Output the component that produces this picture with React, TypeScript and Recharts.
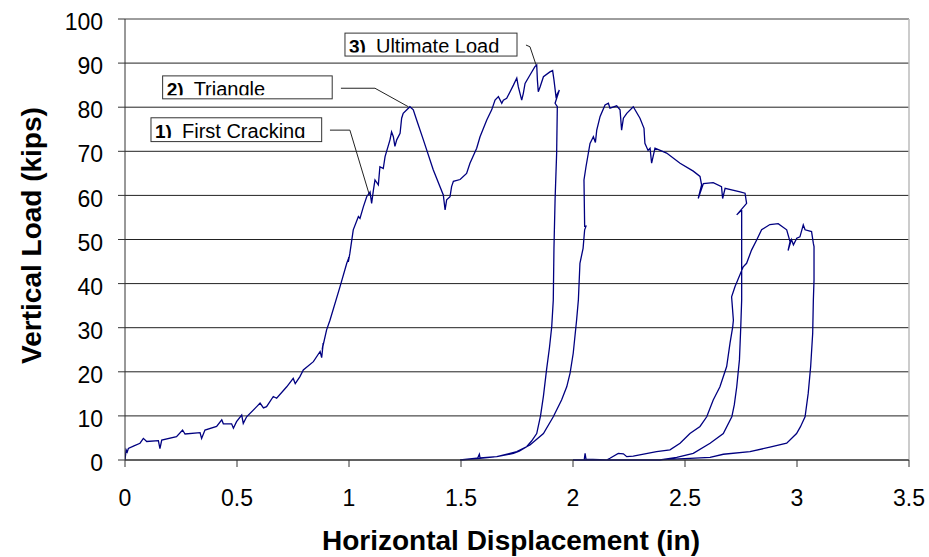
import React from 'react';
import { LineChart, Line, XAxis, YAxis, CartesianGrid, ReferenceLine, ReferenceArea } from 'recharts';

type Pt = [number, number];

const FONT = '"Liberation Sans", Arial, sans-serif';
const X_TICKS = [0, 0.5, 1, 1.5, 2, 2.5, 3, 3.5];
const Y_TICKS = [0, 10, 20, 30, 40, 50, 60, 70, 80, 90, 100];

// monotonic push up to the ultimate load
const firstLoading: Pt[] = [
  [0, 0], [0.005, 2.3], [0.01, 1.8], [0.015, 2.6], [0.04, 3.2], [0.067, 3.8], [0.082, 4.9],
  [0.097, 4.2], [0.149, 4.4], [0.156, 2.6], [0.164, 4.5], [0.23, 5.3], [0.257, 6.8], [0.268, 5.9],
  [0.335, 6.2], [0.342, 4.9], [0.357, 6.8], [0.409, 7.6], [0.432, 9.1], [0.439, 8.2], [0.476, 8.2],
  [0.484, 7.2], [0.498, 8.7], [0.521, 10.2], [0.528, 8.3], [0.543, 9.8], [0.588, 12.1], [0.603, 12.9],
  [0.618, 11.8], [0.632, 12.1], [0.662, 14.4], [0.677, 14.0], [0.722, 16.6], [0.751, 18.5],
  [0.76, 17.3], [0.781, 18.9], [0.796, 20.4], [0.841, 22.3], [0.871, 24.6], [0.878, 23.2],
  [0.885, 26.5], [0.88, 25], [0.9, 29.5], [0.915, 31.7], [0.96, 39.3], [0.99, 44.6], [1.0, 46.0],
  [0.997, 44.9], [1.004, 46.9], [1.019, 52.2], [1.042, 55.2], [1.049, 54.8], [1.064, 57.4],
  [1.079, 59.7], [1.094, 60.8], [1.101, 58.2], [1.109, 61.2], [1.116, 63.5], [1.131, 62.4],
  [1.138, 66.5], [1.153, 66.1], [1.161, 68.8], [1.183, 72.6], [1.19, 74.4], [1.198, 73.3],
  [1.205, 71.1], [1.213, 72.6], [1.228, 74.1], [1.235, 77.5], [1.242, 78.6], [1.272, 80.1],
  [1.287, 79.4], [1.302, 77.1], [1.332, 72.6], [1.376, 65.8], [1.421, 60.1], [1.429, 56.7],
  [1.436, 59.0], [1.451, 59.7], [1.458, 62.0], [1.466, 63.2], [1.496, 63.6], [1.525, 65.0],
  [1.54, 67.3], [1.57, 70.7], [1.585, 73.3], [1.615, 77.1], [1.637, 79.4], [1.652, 81.6],
  [1.667, 82.4], [1.682, 80.9], [1.689, 81.6], [1.704, 82.0], [1.734, 85.0], [1.749, 86.6],
  [1.756, 84.6], [1.771, 81.6], [1.778, 83.1], [1.786, 85.4], [1.808, 87.3], [1.83, 89.2],
  [1.838, 89.6], [1.841, 86.2], [1.845, 83.5], [1.853, 84.6], [1.868, 86.9], [1.897, 88.0],
  [1.909, 88.3], [1.915, 86.2], [1.924, 82.4], [1.939, 83.9], [1.92, 80.9], [1.93, 80.1],
];

const firstUnloading: Pt[] = [
  [1.927, 69.6], [1.92, 59.0], [1.915, 48.0], [1.912, 36.3], [1.905, 30.2], [1.895, 25.5],
  [1.882, 20.5], [1.868, 14.5], [1.855, 10.0], [1.838, 6.0], [1.815, 4.3], [1.793, 3.0],
  [1.76, 2.0], [1.734, 1.5], [1.66, 0.75], [1.585, 0.4], [1.52, 0.1], [1.496, 0],
];

const secondLoading: Pt[] = [
  [1.57, 0.4], [1.575, 0.5], [1.582, 1.3], [1.585, 0.5], [1.66, 0.75], [1.749, 1.9], [1.808, 3.4],
  [1.868, 6.0], [1.912, 9.8], [1.949, 13.6], [1.972, 16.6], [1.987, 19.7], [2.001, 24.2],
  [2.016, 31.7], [2.024, 36.3], [2.031, 44.6], [2.045, 48.0], [2.052, 52.2], [2.058, 53.0],
  [2.052, 53.0], [2.049, 63.5], [2.058, 66.5], [2.076, 71.8], [2.091, 73.3], [2.1, 72.0],
  [2.106, 74.8], [2.121, 77.9], [2.143, 80.5], [2.158, 80.9], [2.165, 79.8], [2.195, 80.3],
  [2.21, 79.4], [2.217, 74.8], [2.225, 77.5], [2.24, 78.6], [2.269, 80.1], [2.299, 77.5],
  [2.317, 75.2], [2.321, 71.8], [2.335, 70.2], [2.344, 70.7], [2.351, 67.3], [2.366, 70.7],
  [2.418, 69.6], [2.478, 67.3], [2.537, 65.5], [2.567, 64.3], [2.574, 62.4], [2.559, 59.3],
  [2.582, 62.7], [2.626, 62.9], [2.663, 62.0], [2.668, 59.3], [2.679, 61.6], [2.746, 60.8],
  [2.768, 60.5], [2.775, 58.2], [2.731, 55.6], [2.753, 56.7],
];

const secondUnloading: Pt[] = [
  [2.753, 45.0], [2.753, 36.3], [2.749, 30.2], [2.743, 22.7], [2.731, 16.6], [2.72, 12.5],
  [2.709, 9.8], [2.671, 6.0], [2.612, 3.8], [2.537, 1.5], [2.463, 0.6], [2.388, 0], [2.0, 0],
];

const thirdLoading: Pt[] = [
  [2.05, 0], [2.054, 1.5], [2.058, 0.2], [2.15, 0], [2.165, 0.4], [2.202, 1.5], [2.225, 1.4],
  [2.24, 0.75], [2.269, 0.9], [2.373, 1.9], [2.433, 2.3], [2.478, 3.8], [2.522, 6.0],
  [2.567, 7.6], [2.597, 9.8], [2.626, 13.6], [2.656, 16.6], [2.686, 21.2], [2.701, 26.5],
  [2.713, 30.2], [2.716, 31.7], [2.708, 37.0], [2.723, 39.3], [2.76, 43.8], [2.775, 44.6],
  [2.797, 47.6], [2.82, 49.9], [2.842, 52.2], [2.879, 53.4], [2.916, 53.6], [2.954, 52.2],
  [2.969, 49.5], [2.96, 47.5], [2.975, 50.0], [2.984, 48.8], [2.999, 50.3], [3.013, 50.6],
  [3.028, 53.3], [3.036, 52.2], [3.065, 51.8], [3.073, 49.1], [3.076, 48.4],
];

const finalUnloading: Pt[] = [
  [3.076, 40.8], [3.073, 36.3], [3.07, 28.7], [3.061, 21.2], [3.05, 15.1], [3.036, 9.8],
  [3.015, 7.5], [2.998, 6.0], [2.954, 3.8], [2.879, 2.9], [2.79, 1.9], [2.671, 1.3],
  [2.612, 0.6], [2.522, 0.35], [2.4, 0.1], [2.284, 0],
];

const loadPath: Pt[] = [
  ...firstLoading, ...firstUnloading, ...secondLoading,
  ...secondUnloading, ...thirdLoading, ...finalUnloading,
];
const data = loadPath.map(([x, y]) => ({ x, y }));

const CALLOUTS = [
  {
    id: 'c3', num: '3)', text: 'Ultimate Load',
    x1: 0.982, x2: 1.75, y1: 91.6, y2: 96.8,
    leader: [[1.79, 94.1], [1.808, 93.7], [1.835, 89.6]] as Pt[],
  },
  {
    id: 'c2', num: '2)', text: 'Triangle',
    x1: 0.168, x2: 0.925, y1: 81.9, y2: 87.1,
    leader: [[0.964, 84.3], [1.116, 84.3], [1.265, 80.1]] as Pt[],
  },
  {
    id: 'c1', num: '1)', text: 'First Cracking',
    x1: 0.116, x2: 0.878, y1: 72.2, y2: 77.6,
    leader: [[0.915, 74.8], [1.004, 74.8], [1.091, 60.1]] as Pt[],
  },
];

function CalloutBox(props: any) {
  const { x, y, width, height, id, num, text } = props;
  return (
    <g>
      <defs>
        <clipPath id={`clip-${id}`}>
          <rect x={x} y={y} width={width} height={height - 3.5} />
        </clipPath>
      </defs>
      <rect x={x} y={y} width={width} height={height} fill="#fff" stroke="#333" strokeWidth={1} />
      <g clipPath={`url(#clip-${id})`} fontFamily={FONT} fill="#000">
        <text x={x + 4} y={y + 20} fontSize={19} fontWeight="bold">{num}</text>
        <text x={x + 31} y={y + 20} fontSize={20}>{text}</text>
      </g>
    </g>
  );
}

export default function App() {
  return (
    <div style={{ position: 'absolute', left: 0, top: 0, width: 929, height: 557, background: '#fff' }}>
      <LineChart width={929} height={557} data={data} margin={{ top: 19, right: 20, bottom: 0, left: 0 }}>
        <CartesianGrid vertical={false} stroke="#222" strokeWidth={1} />
        <ReferenceLine y={100} stroke="#aaa" />
        <ReferenceLine x={3.5} stroke="#bbb" strokeWidth={1.5} />
        <XAxis
          dataKey="x"
          type="number"
          domain={[0, 3.5]}
          ticks={X_TICKS}
          allowDataOverflow
          height={97}
          tickSize={7}
          tickMargin={23}
          stroke="#333"
          tick={{ fontSize: 23, fill: '#000', fontFamily: FONT }}
          label={(p: any) => {
            const vb = p.viewBox || { x: 125, y: 460, width: 784 };
            return (
              <text x={vb.x + vb.width / 2 - 6} y={550} textAnchor="middle" fontSize={28}
                fontWeight="bold" fontFamily={FONT} fill="#000">
                Horizontal Displacement (in)
              </text>
            );
          }}
        />
        <YAxis
          type="number"
          domain={[0, 100]}
          ticks={Y_TICKS}
          width={125}
          tickSize={7}
          tickMargin={15}
          stroke="#333"
          tick={{ fontSize: 23, fill: '#000', fontFamily: FONT, dy: 3 }}
          label={(p: any) => {
            const vb = p.viewBox || { x: 0, y: 19, height: 441 };
            const cy = vb.y + vb.height / 2 - 4;
            return (
              <text x={31} y={cy} transform={`rotate(-90 31 ${cy})`} textAnchor="middle"
                dominantBaseline="central" fontSize={28} fontWeight="bold" fontFamily={FONT} fill="#000">
                Vertical Load (kips)
              </text>
            );
          }}
        />
        {CALLOUTS.map((c) =>
          c.leader.slice(1).map((pt, i) => (
            <ReferenceLine
              key={`${c.id}-l${i}`}
              segment={[{ x: c.leader[i][0], y: c.leader[i][1] }, { x: pt[0], y: pt[1] }]}
              stroke="#222"
              strokeWidth={1}
              ifOverflow="visible"
            />
          ))
        )}
        {CALLOUTS.map((c) => (
          <ReferenceArea
            key={c.id}
            x1={c.x1}
            x2={c.x2}
            y1={c.y1}
            y2={c.y2}
            ifOverflow="visible"
            shape={(p: any) => <CalloutBox {...p} id={c.id} num={c.num} text={c.text} />}
          />
        ))}
        <Line
          type="linear"
          dataKey="y"
          stroke="#000080"
          strokeWidth={1.3}
          dot={false}
          isAnimationActive={false}
        />
      </LineChart>
    </div>
  );
}
